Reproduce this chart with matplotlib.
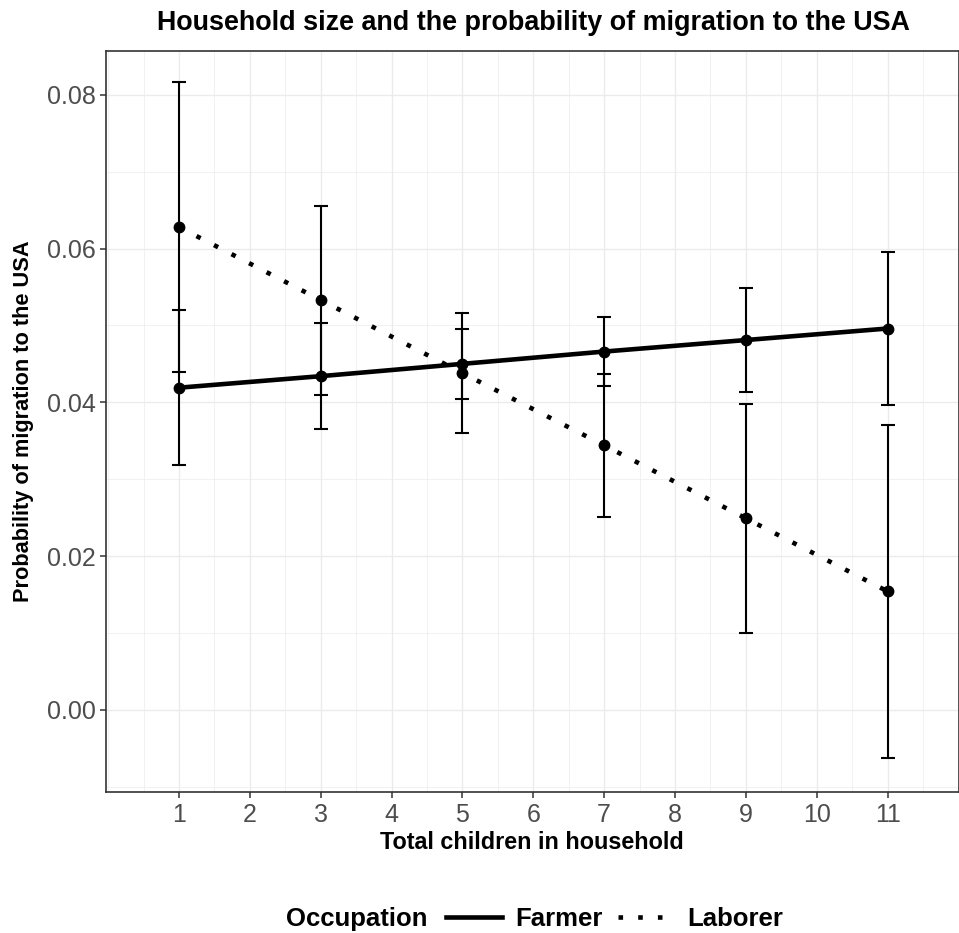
import matplotlib
matplotlib.use("Agg")
import matplotlib.pyplot as plt
from matplotlib.lines import Line2D
from matplotlib.ticker import MultipleLocator

plt.rcParams['font.family'] = ['Liberation Sans', 'DejaVu Sans']

# data
children = [1, 3, 5, 7, 9, 11]
farmer_prob = [0.0419, 0.0434, 0.0450, 0.0466, 0.0481, 0.0496]
farmer_err = [0.0101, 0.0069, 0.0046, 0.0045, 0.0068, 0.0100]
laborer_prob = [0.0628, 0.0533, 0.0438, 0.0344, 0.0249, 0.0154]
laborer_err = [0.0189, 0.0123, 0.0078, 0.0093, 0.0149, 0.0217]
x_ticks = list(range(1, 12))
y_ticks = [0.00, 0.02, 0.04, 0.06, 0.08]

W, H = 959, 933
fig = plt.figure(figsize=(W / 100, H / 100), dpi=100)
ax = fig.add_axes([106 / W, 1 - 791.5 / H, 852.5 / W, (791.5 - 51) / H])

grey_grid = '#EBEBEB'
ax.set_axisbelow(True)
ax.grid(which='major', color=grey_grid, lw=1.0)
ax.grid(which='minor', color=grey_grid, lw=0.5)

dotted = (0, (1, 3.3))
for y, e, ls in [(farmer_prob, farmer_err, '-'), (laborer_prob, laborer_err, dotted)]:
    ax.errorbar(children, y, yerr=e, fmt='none', ecolor='black',
                elinewidth=1.5, capsize=5, capthick=1.5, zorder=3)
    ax.plot(children, y, color='black', lw=3.3, linestyle=ls,
            dash_capstyle='butt', solid_capstyle='butt', zorder=4)
    ax.plot(children, y, 'o', color='black', ms=7.5, zorder=5)

ax.set_xlim(-0.03, 12.0)
ax.set_ylim(-0.01063, 0.0857)
ax.set_xticks(x_ticks)
ax.set_yticks(y_ticks)
ax.set_yticklabels(['%.2f' % v for v in y_ticks])
ax.xaxis.set_minor_locator(MultipleLocator(0.5))
ax.yaxis.set_minor_locator(MultipleLocator(0.01))
ax.tick_params(which='major', length=4.5, width=1.1, color='#333333',
               labelsize=18, labelcolor='#4D4D4D', pad=3)
ax.tick_params(axis='x', pad=4)
ax.tick_params(which='minor', length=0)
for s in ax.spines.values():
    s.set_color('#333333')
    s.set_linewidth(1.2)

ax.set_xlabel('Total children in household', fontsize=16.8, fontweight='bold', labelpad=3)
ax.set_ylabel('Probability of migration to the USA', fontsize=15.7, fontweight='bold', labelpad=9)

fig.text(533 / W, 1 - 23 / H, 'Household size and the probability of migration to the USA',
         ha='center', va='center', fontsize=19.4, fontweight='bold')

# legend at the bottom
fig.text(286 / W, 1 - 919 / H, 'Occupation', ha='left', va='center',
         fontsize=18.5, fontweight='bold')
handles = [Line2D([], [], color='black', lw=3.3),
           Line2D([], [], color='black', lw=3.3, linestyle=dotted, dash_capstyle='butt')]
leg = fig.legend(handles, ['Farmer', 'Laborer'], ncol=2, frameon=False,
                 loc='center left', bbox_to_anchor=(446 / W, 1 - 919 / H),
                 borderaxespad=0, borderpad=0,
                 handlelength=2.18, handletextpad=0.5, columnspacing=0.62,
                 prop={'size': 18.5, 'weight': 'bold'})

fig.savefig('out.png', dpi=100)
